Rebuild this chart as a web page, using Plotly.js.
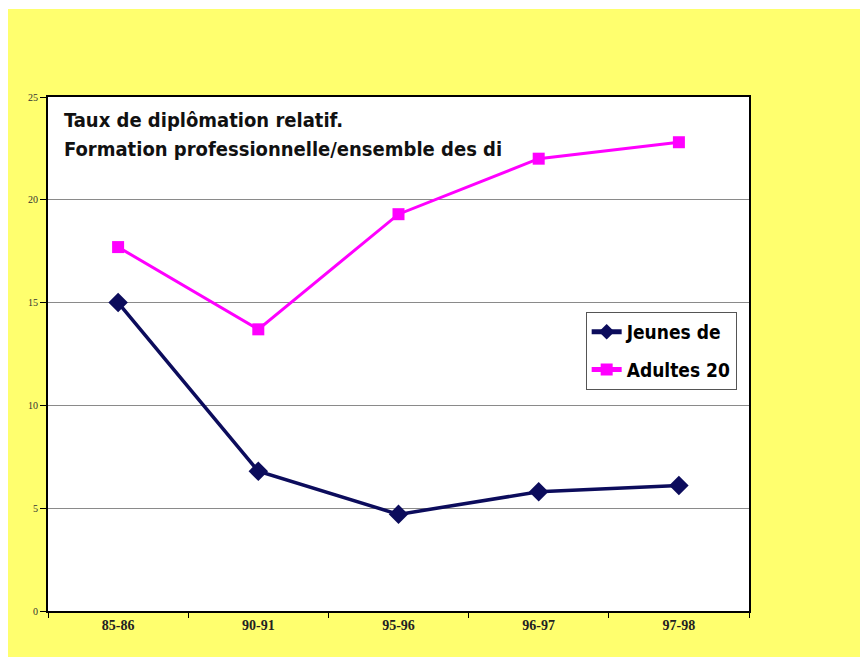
<!DOCTYPE html>
<html>
<head>
<meta charset="utf-8">
<script src="https://cdn.plot.ly/plotly-3.0.1.min.js"></script>
<style>
  html, body { margin: 0; padding: 0; background: #ffffff; }
  #bg { position: absolute; left: 8px; top: 9px; width: 852px; height: 648px; background: #FFFF6E; }
  #chart { position: absolute; left: 0; top: 0; width: 860px; height: 657px; }
</style>
</head>
<body>
<div id="bg"></div>
<div id="chart"></div>
<script>
const categories = ["85-86", "90-91", "95-96", "96-97", "97-98"];
const jeunes = [15.0, 6.8, 4.7, 5.8, 6.1];
const adultes = [17.7, 13.7, 19.3, 22.0, 22.8];
const seriesNames = ["Jeunes de", "Adultes 20"];
const yTicks = [0, 5, 10, 15, 20, 25];
const titleLines = ["Taux de diplômation relatif.", "Formation professionnelle/ensemble des di"];

const condensed = "'DejaVu Sans Condensed', 'Liberation Sans Narrow', sans-serif";

const traces = [
  {
    x: categories, y: jeunes, name: seriesNames[0], type: "scatter", mode: "lines+markers",
    legendgroup: "a",
    line: { color: "#0C0C5C", width: 3.5 },
    marker: { symbol: "diamond", size: 15, color: "#0C0C5C" }
  },
  {
    x: categories, y: adultes, name: seriesNames[1], type: "scatter", mode: "lines+markers",
    legendgroup: "b",
    line: { color: "#FF00FF", width: 3 },
    marker: { symbol: "square", size: 12, color: "#FF00FF" }
  }
];

const layout = {
  width: 860, height: 657,
  margin: { l: 48, r: 111, t: 97, b: 46 },
  paper_bgcolor: "rgba(0,0,0,0)",
  plot_bgcolor: "#ffffff",
  showlegend: true,
  legend: {
    x: 0.767, y: 0.582, xanchor: "left", yanchor: "top",
    bgcolor: "#ffffff", bordercolor: "#555555", borderwidth: 1,
    font: { family: condensed, size: 19, color: "#000000", weight: "bold" },
    itemwidth: 30, itemsizing: "constant", traceorder: "grouped", tracegroupgap: 10
  },
  xaxis: {
    type: "category", range: [-0.5, 4.5],
    tickson: "boundaries", ticks: "outside", ticklen: 5, tickcolor: "#000",
    showgrid: false, showline: true, mirror: true, linecolor: "#000", linewidth: 2,
    tickfont: { family: "'Liberation Serif', serif", size: 14, color: "#222", weight: "bold" },
    fixedrange: true
  },
  yaxis: {
    range: [0, 25], tickvals: yTicks, ticks: "outside", ticklen: 6, tickcolor: "#000",
    showgrid: true, gridcolor: "#8a8a8a", gridwidth: 1, zeroline: false,
    showline: true, mirror: true, linecolor: "#000", linewidth: 2,
    tickfont: { family: "'Liberation Serif', serif", size: 10, color: "#333" },
    fixedrange: true
  },
  annotations: [
    {
      xref: "paper", yref: "paper", x: 0.02, y: 0.982, xanchor: "left", yanchor: "top",
      text: "<b>" + titleLines[0] + "</b>", showarrow: false,
      font: { family: condensed, size: 20, color: "#111" }
    },
    {
      xref: "paper", yref: "paper", x: 0.02, y: 0.927, xanchor: "left", yanchor: "top",
      text: "<b>" + titleLines[1] + "</b>", showarrow: false,
      font: { family: condensed, size: 20, color: "#111" }
    }
  ]
};

Plotly.newPlot("chart", traces, layout, { displayModeBar: false, staticPlot: true });
</script>
</body>
</html>
